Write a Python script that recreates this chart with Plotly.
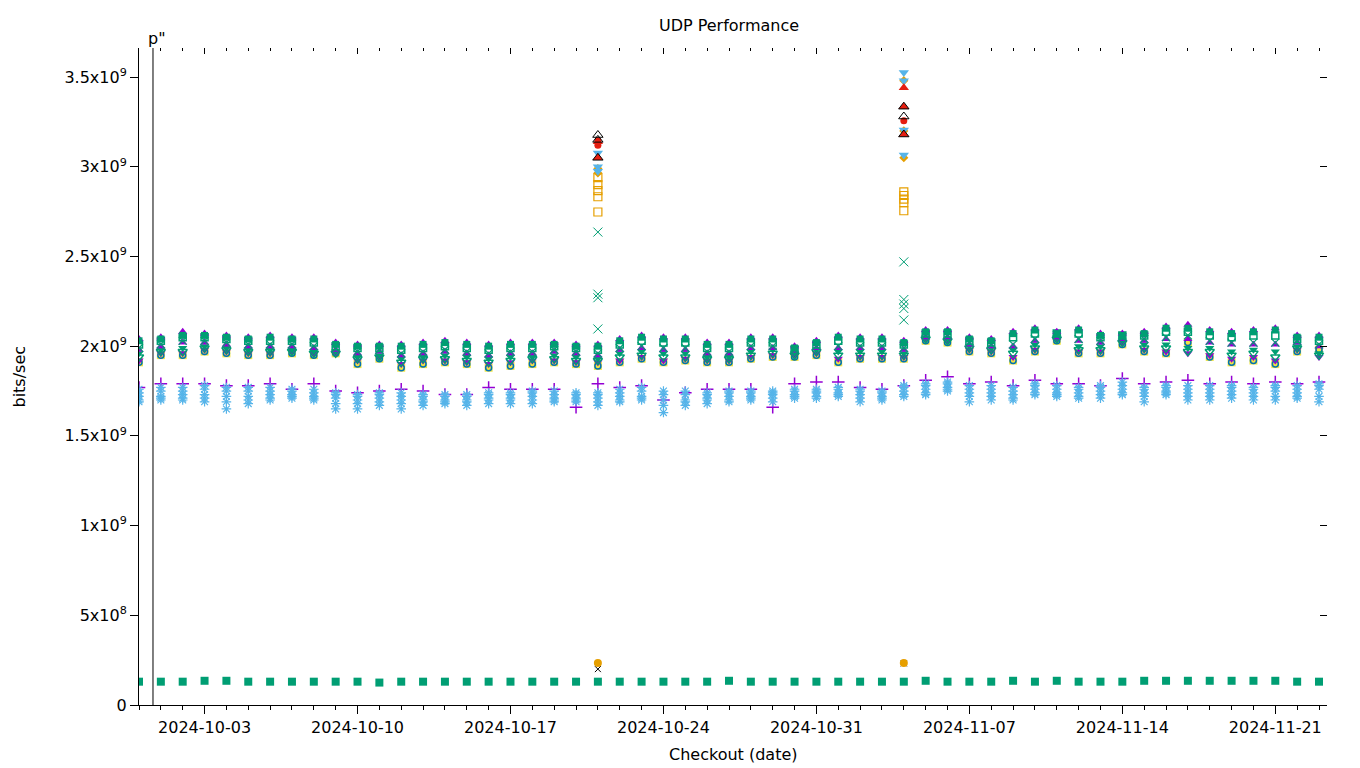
import plotly.graph_objects as go
import pandas as pd

GB = 1e9
dates = pd.date_range("2024-09-30", "2024-11-23", freq="D").strftime("%Y-%m-%d").tolist()

# ---- cluster around 2 Gbit/s (values in 1e9 bits/sec) ----
purple_tri_up = [2.04,2.05,2.08,2.07,2.06,2.05,2.06,2.05,2.05,2.02,2.01,2.01,2.01,2.02,2.03,2.02,2.01,2.02,2.02,2.02,
                 2.01,2.01,2.04,2.06,2.05,2.05,2.02,2.02,2.05,2.05,2.00,2.03,2.06,2.05,2.05,2.03,2.09,2.09,2.05,2.04,
                 2.08,2.10,2.08,2.10,2.07,2.07,2.08,2.11,2.12,2.09,2.08,2.09,2.10,2.06,2.06]
green_square = [2.03,2.04,2.06,2.06,2.05,2.04,2.05,2.04,2.04,2.01,2.00,2.00,2.00,2.01,2.02,2.01,2.00,2.01,2.01,2.01,
                2.00,2.00,2.03,2.05,2.04,2.04,2.01,2.01,2.04,2.04,1.99,2.02,2.05,2.04,2.04,2.02,2.08,2.08,2.04,2.03,
                2.07,2.09,2.07,2.09,2.06,2.06,2.07,2.10,2.10,2.08,2.07,2.08,2.09,2.05,2.05]
green_square_b = [2.01,2.03,2.05,2.05,2.04,2.03,2.03,2.03,2.02,2.00,1.99,1.99,1.98,1.99,2.00,1.99,1.98,1.99,1.99,2.00,
                  1.99,1.98,2.01,2.03,2.02,2.02,1.99,1.99,2.02,2.02,1.98,2.01,2.03,2.02,2.02,2.01,2.07,2.07,2.03,2.02,
                  2.05,2.07,2.07,2.07,2.05,2.06,2.06,2.08,2.08,2.06,2.05,2.06,2.06,2.04,2.03]
green_x = [1.99,2.01,2.03,2.03,2.02,2.01,2.01,2.01,2.00,1.99,1.97,1.98,1.96,1.97,1.98,1.97,1.96,1.97,1.97,1.98,
           1.97,1.96,1.99,2.00,1.99,1.99,1.97,1.97,2.00,2.00,1.98,2.00,2.00,2.00,2.00,1.99,2.06,2.06,2.02,2.01,
           2.01,2.04,2.06,2.04,2.03,2.05,2.04,2.05,2.06,2.03,2.02,2.02,2.02,2.03,2.01]
purple_tri_up_b = [1.98,2.00,2.02,2.02,2.01,2.00,2.00,2.00,1.99,1.98,1.96,1.97,1.95,1.96,1.97,1.96,1.95,1.96,1.96,1.97,
                   1.96,1.95,1.98,1.99,1.98,1.98,1.96,1.96,1.99,1.99,1.97,1.99,1.99,1.99,1.99,1.98,2.05,2.05,2.01,2.00,
                   2.00,2.03,2.05,2.03,2.02,2.04,2.03,2.04,2.04,2.02,2.01,2.01,2.01,2.02,2.00]
green_tri_down = [1.96,1.98,1.99,2.00,1.99,1.98,1.98,1.98,1.97,1.97,1.94,1.95,1.93,1.94,1.95,1.94,1.93,1.94,1.94,1.95,
                  1.94,1.93,1.96,1.97,1.96,1.96,1.94,1.94,1.97,1.98,1.96,1.98,1.97,1.97,1.97,1.96,2.05,2.04,2.00,1.99,
                  1.98,2.01,2.05,2.00,2.00,2.03,2.01,2.01,1.99,1.99,1.97,1.98,1.97,2.00,1.96]
green_tri_down_b = [1.94,1.97,1.97,1.99,1.98,1.97,1.97,1.97,1.96,1.96,1.93,1.94,1.91,1.93,1.93,1.92,1.91,1.92,1.93,1.93,
                    1.92,1.92,1.94,1.95,1.94,1.94,1.93,1.93,1.95,1.96,1.95,1.97,1.95,1.95,1.95,1.95,2.04,2.03,1.99,1.98,
                    1.96,1.99,2.04,1.98,1.98,2.02,1.99,1.99,1.97,1.97,1.95,1.96,1.94,1.99,1.95]
purple_tri_down = [1.92,1.96,1.96,1.98,1.97,1.96,1.96,1.97,1.96,1.96,1.92,1.94,1.90,1.92,1.92,1.91,1.90,1.91,1.92,1.92,
                   1.91,1.91,1.92,1.94,1.92,1.93,1.92,1.92,1.94,1.95,1.95,1.96,1.93,1.94,1.94,1.94,2.04,2.03,1.98,1.97,
                   1.94,1.98,2.04,1.97,1.97,2.02,1.98,1.97,1.96,1.95,1.93,1.94,1.92,1.98,1.94]
yellow_square = [1.91,1.95,1.95,1.97,1.96,1.95,1.95,1.96,1.95,1.96,1.90,1.93,1.88,1.90,1.91,1.90,1.88,1.89,1.90,1.91,
                 1.90,1.89,1.91,1.93,1.91,1.92,1.91,1.91,1.93,1.94,1.94,1.95,1.91,1.93,1.93,1.93,2.03,2.02,1.97,1.96,
                 1.92,1.97,2.03,1.96,1.96,2.01,1.97,1.96,2.02,1.94,1.91,1.92,1.90,1.97,1.98]

# ---- cluster around 1.7 Gbit/s ----
purple_plus = [1.77,1.79,1.79,1.79,1.78,1.78,1.79,1.76,1.79,1.75,1.74,1.75,1.76,1.75,1.73,1.73,1.77,1.76,1.76,1.76,
               1.66,1.79,1.77,1.78,1.70,1.74,1.76,1.76,1.76,1.66,1.79,1.80,1.80,1.77,1.76,1.78,1.81,1.83,1.79,1.80,
               1.78,1.81,1.79,1.79,1.78,1.82,1.79,1.80,1.81,1.79,1.80,1.79,1.80,1.79,1.80]
lblue_star_hi = [1.76,1.77,1.77,1.78,1.77,1.77,1.77,1.76,1.76,1.74,1.73,1.74,1.74,1.73,1.73,1.73,1.74,1.74,1.75,1.75,
                 1.74,1.74,1.76,1.77,1.75,1.75,1.74,1.75,1.75,1.75,1.76,1.76,1.77,1.76,1.75,1.78,1.79,1.80,1.78,1.78,
                 1.77,1.79,1.78,1.77,1.78,1.80,1.77,1.78,1.78,1.78,1.78,1.77,1.78,1.78,1.79]
lblue_star_uh = [1.74,1.75,1.75,1.76,1.75,1.75,1.75,1.75,1.74,1.73,1.72,1.73,1.72,1.72,1.72,1.72,1.73,1.73,1.74,1.73,
                 1.73,1.73,1.74,1.75,1.73,1.73,1.73,1.74,1.74,1.74,1.75,1.75,1.76,1.75,1.74,1.77,1.78,1.79,1.76,1.76,
                 1.75,1.78,1.76,1.76,1.77,1.78,1.76,1.77,1.76,1.76,1.77,1.76,1.77,1.76,1.78]
lblue_star_mid = [1.72,1.72,1.73,1.73,1.72,1.72,1.73,1.73,1.72,1.71,1.70,1.71,1.70,1.70,1.70,1.70,1.71,1.71,1.72,1.71,
                  1.71,1.71,1.72,1.72,1.70,1.70,1.71,1.72,1.72,1.73,1.73,1.74,1.74,1.73,1.72,1.75,1.76,1.77,1.74,1.74,
                  1.73,1.76,1.74,1.74,1.75,1.76,1.74,1.75,1.74,1.74,1.75,1.74,1.75,1.74,1.76]
lblue_star_ml = [1.70,1.71,1.71,1.71,1.69,1.70,1.71,1.72,1.71,1.68,1.68,1.69,1.68,1.69,1.69,1.69,1.70,1.70,1.70,1.70,
                 1.70,1.69,1.70,1.71,1.67,1.69,1.70,1.70,1.71,1.71,1.72,1.72,1.73,1.71,1.71,1.73,1.74,1.76,1.72,1.72,
                 1.71,1.74,1.73,1.72,1.73,1.74,1.72,1.74,1.72,1.72,1.73,1.72,1.72,1.72,1.72]
lblue_star_lo = [1.69,1.70,1.70,1.69,1.65,1.68,1.70,1.71,1.70,1.65,1.65,1.67,1.65,1.67,1.68,1.67,1.68,1.68,1.68,1.69,
                 1.69,1.67,1.69,1.70,1.63,1.67,1.68,1.69,1.70,1.69,1.71,1.71,1.72,1.69,1.70,1.72,1.73,1.75,1.69,1.70,
                 1.70,1.73,1.72,1.71,1.71,1.73,1.69,1.73,1.70,1.70,1.71,1.70,1.70,1.71,1.69]

# ---- low cluster ----
green_block = [0.13,0.13,0.13,0.135,0.135,0.13,0.13,0.13,0.13,0.13,0.13,0.125,0.13,0.13,0.13,0.13,0.13,0.13,0.13,0.13,
               0.13,0.13,0.13,0.13,0.13,0.13,0.13,0.135,0.13,0.13,0.13,0.13,0.13,0.13,0.13,0.13,0.135,0.13,0.13,0.13,
               0.135,0.13,0.135,0.13,0.13,0.13,0.135,0.135,0.135,0.135,0.135,0.135,0.135,0.13,0.13]

# ---- outlier runs on two checkouts ----
spike_days = ["2024-10-21", "2024-11-04"]
spike_red_circle = [[3.12, 3.145], [3.257]]
spike_red_tri = [[3.05, 3.14], [3.44, 3.335, 3.18]]
spike_black_tri = [[3.177, 3.15, 3.05], [3.28, 3.18, 3.335]]
spike_lblue_tri_down = [[3.077, 3.0, 2.975], [3.525, 3.48, 3.205, 3.066]]
spike_orange_diamond = [[2.965, 2.99], [3.48, 3.05, 3.2]]
spike_orange_square = [[2.94, 2.90, 2.867, 2.833, 2.748], [2.86, 2.84, 2.82, 2.80, 2.755]]
spike_green_x = [[2.636, 2.29, 2.27, 2.096], [2.47, 2.26, 2.235, 2.21, 2.146]]
spike_orange_circle = [[0.234], [0.234]]
spike_black_low = [[0.20], [0.232]]

y_tickvals = [0, 0.5, 1.0, 1.5, 2.0, 2.5, 3.0, 3.5]
y_ticktext = ["0", "5x10<sup>8</sup>", "1x10<sup>9</sup>", "1.5x10<sup>9</sup>", "2x10<sup>9</sup>",
              "2.5x10<sup>9</sup>", "3x10<sup>9</sup>", "3.5x10<sup>9</sup>"]

PURPLE = "#9400d3"; GREEN = "#009e73"; LBLUE = "#56b4e9"; ORANGE = "#e69f00"
YELLOW = "#f0e442"; BLUE = "#0072b2"; RED = "#e51e10"; BLACK = "#000000"

fig = go.Figure()


def add(x, vals, symbol, color, size=8, lw=1):
    fig.add_trace(go.Scatter(
        x=x, y=[v * GB for v in vals], mode="markers", showlegend=False, hoverinfo="x+y",
        marker=dict(symbol=symbol, color=color, size=size, line=dict(color=color, width=lw))))


def add_spikes(groups, symbol, color, size=8, lw=1):
    xs, ys = [], []
    for d, g in zip(spike_days, groups):
        xs += [d] * len(g)
        ys += g
    add(xs, ys, symbol, color, size, lw)


# 1.7 G cluster
add(dates, purple_plus, "cross-thin-open", PURPLE, 9, 1.5)
for s in (lblue_star_lo, lblue_star_ml, lblue_star_mid, lblue_star_uh, lblue_star_hi):
    add(dates, s, "asterisk-open", LBLUE, 8, 1.2)

# 2 G cluster
add(dates, yellow_square, "square", YELLOW, 8, 0)
add(dates, yellow_square, "circle-open", BLUE, 6, 1.5)
add(dates, purple_tri_down, "triangle-down", PURPLE, 8, 0)
add(dates, green_tri_down_b, "triangle-down-open", GREEN, 8, 1.5)
add(dates, green_tri_down, "triangle-down", GREEN, 8, 0)
add(dates, purple_tri_up_b, "triangle-up", PURPLE, 8, 0)
add(dates, green_x, "x-thin-open", GREEN, 8, 1.2)
add(dates, green_square_b, "square-open", GREEN, 7, 1.5)
add(dates, purple_tri_up, "triangle-up", PURPLE, 8, 0)
add(dates, green_square, "square", GREEN, 7, 0)

# outliers
add_spikes(spike_green_x, "x-thin-open", GREEN, 9, 1)
add_spikes(spike_orange_square, "square-open", ORANGE, 8, 1.2)
add_spikes(spike_orange_diamond, "diamond", ORANGE, 7, 0)
add_spikes(spike_lblue_tri_down, "triangle-down", LBLUE, 9, 0)
add_spikes(spike_red_circle, "circle", RED, 7, 0)
add_spikes(spike_red_tri, "triangle-up", RED, 9, 0)
add_spikes(spike_black_tri, "triangle-up-open", BLACK, 9, 1)
add_spikes(spike_black_low, "x-thin-open", BLACK, 6, 1)
add_spikes(spike_orange_circle, "circle", ORANGE, 8, 0)

# low cluster
add(dates, green_block, "square", GREEN, 8, 0)

# mirror axes (ticks only)
fig.add_trace(go.Scatter(x=[], y=[], xaxis="x2", yaxis="y2", showlegend=False))

x_range = ["2024-09-30 00:00", "2024-11-23 08:47"]
y_range = [0, 3.662e9]
font = "DejaVu Sans"

# the page body adds an 8px offset, so the figure is 8px smaller on each side
W, H = 1352, 760
fig.update_layout(
    width=W, height=H,
    margin=dict(l=131, r=33, t=40, b=63),
    paper_bgcolor="white", plot_bgcolor="white",
    font=dict(family=font, size=16, color="black"),
    title=dict(text="UDP Performance", x=721 / W, xanchor="center", y=1 - 17 / H, yanchor="middle",
               yref="container", font=dict(family=font, size=16, color="black")),
    xaxis=dict(type="date", range=x_range, tickmode="linear", tick0="2024-10-03", dtick=7 * 86400000,
               tickformat="%Y-%m-%d", ticks="outside", ticklen=8, tickcolor="black", tickwidth=1,
               minor=dict(tickmode="linear", tick0="2024-09-30", dtick=86400000, ticks="outside",
                          ticklen=4, tickcolor="black", showgrid=False),
               showline=True, linecolor="black", linewidth=1, showgrid=False, zeroline=False,
               tickfont=dict(size=16)),
    yaxis=dict(range=y_range, tickmode="array", tickvals=[v * GB for v in y_tickvals], ticktext=y_ticktext,
               ticks="outside", ticklen=8, tickcolor="black", showline=True, linecolor="black", linewidth=1,
               showgrid=False, zeroline=False, tickfont=dict(size=16)),
    xaxis2=dict(type="date", overlaying="x", side="top", anchor="y", range=x_range, tickmode="linear",
                tick0="2024-10-03", dtick=7 * 86400000, showticklabels=False, ticks="inside", ticklen=6,
                tickcolor="black",
                minor=dict(tickmode="linear", tick0="2024-09-30", dtick=86400000, ticks="inside",
                           ticklen=3, tickcolor="black", showgrid=False),
                showline=False, showgrid=False, zeroline=False),
    yaxis2=dict(overlaying="y", side="right", anchor="x", range=y_range, tickmode="array",
                tickvals=[v * GB for v in y_tickvals], showticklabels=False, ticks="inside", ticklen=7,
                tickcolor="black", showline=False, showgrid=False, zeroline=False),
    annotations=[
        dict(text="Checkout (date)", xref="paper", yref="paper", x=0.5, y=-(754 - 705) / 657,
             xanchor="center", yanchor="middle", showarrow=False, font=dict(size=16)),
        dict(text="bits/sec", xref="paper", yref="paper", x=(19 - 139) / 1188, y=0.5, textangle=-90,
             xanchor="center", yanchor="middle", showarrow=False, font=dict(size=16)),
        dict(text="p\"", xref="x", yref="paper", x="2024-09-30 15:22", y=1.0, xshift=4, yshift=-2,
             xanchor="center", yanchor="bottom", showarrow=False, font=dict(size=16)),
    ],
    shapes=[dict(type="line", xref="x", yref="paper", x0="2024-09-30 15:22", x1="2024-09-30 15:22",
                 y0=0, y1=1, line=dict(color="black", width=1))],
)

fig.write_html("out.html")
